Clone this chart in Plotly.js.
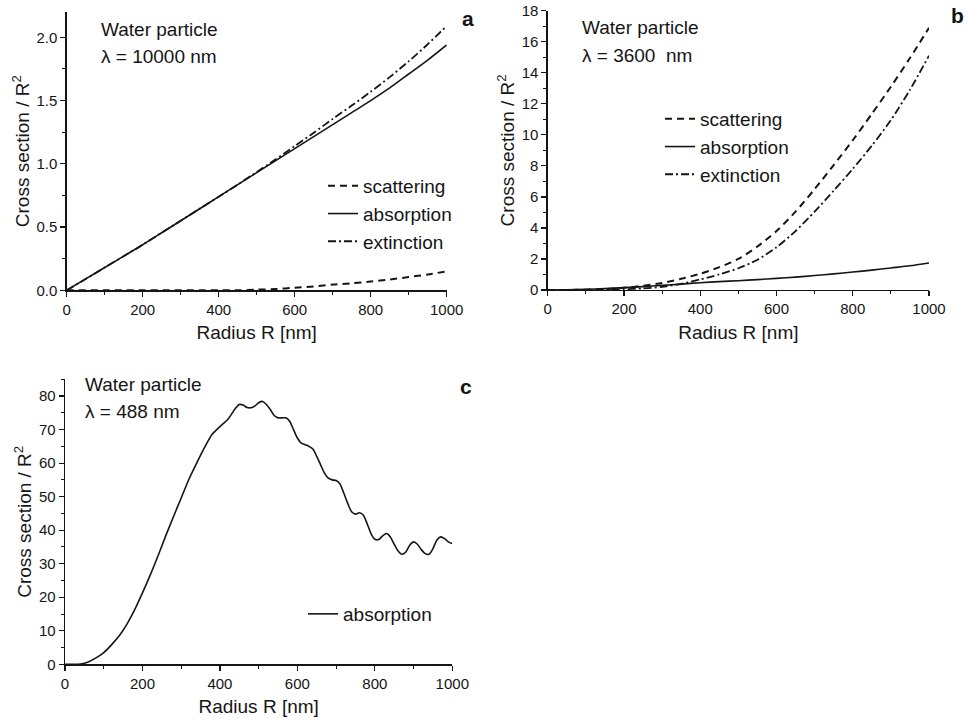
<!DOCTYPE html>
<html>
<head>
<meta charset="utf-8">
<script src="https://cdn.plot.ly/plotly-3.0.1.min.js"></script>
<style>html,body{margin:0;padding:0;background:#fff;}#chart{width:970px;height:726px;}</style>
</head>
<body>
<div id="chart"></div>
<script>
// Radius grid (nm)
const radiusAB = [0,50,100,150,200,250,300,350,400,450,500,550,600,650,700,750,800,850,900,950,1000];

// Panel a: lambda = 10000 nm
const aScattering = [0,0,0,0,0,0,0,0,0,0,0.005,0.01,0.02,0.03,0.045,0.055,0.07,0.085,0.105,0.125,0.15];
const aAbsorption = [0,0.09,0.18,0.27,0.36,0.455,0.55,0.645,0.74,0.835,0.93,1.025,1.12,1.215,1.31,1.405,1.50,1.60,1.71,1.82,1.94];
const aExtinction = [0,0.09,0.18,0.27,0.36,0.455,0.55,0.645,0.74,0.835,0.935,1.035,1.14,1.245,1.355,1.46,1.57,1.685,1.81,1.945,2.09];

// Panel b: lambda = 3600 nm
const bScattering = [0,0,0.02,0.06,0.14,0.27,0.45,0.72,1.05,1.47,2.0,2.8,3.8,5.05,6.5,8.05,9.65,11.35,13.1,14.95,16.9];
const bAbsorption = [0,0.01,0.04,0.09,0.15,0.22,0.3,0.38,0.47,0.54,0.6,0.67,0.75,0.83,0.93,1.04,1.16,1.28,1.42,1.56,1.74];
const bExtinction = [0,0,0.01,0.02,0.05,0.1,0.2,0.4,0.68,1.0,1.4,1.95,2.75,3.8,5.05,6.4,7.8,9.3,10.95,12.9,15.1];

// Panel c: lambda = 488 nm
const radiusC = [0,20,40,60,80,100,120,140,160,180,200,220,240,260,280,300,320,340,360,380,400,420,440,450,460,470,480,490,500,510,520,530,540,550,560,570,580,590,600,610,620,630,640,650,660,670,680,690,700,710,720,730,740,750,760,770,780,790,800,810,820,830,840,850,860,870,880,890,900,910,920,930,940,950,960,970,980,990,1000];
const cAbsorption = [0,0,0.1,0.7,1.9,3.5,5.8,8.5,12,16.3,21.3,26.6,32.3,38.3,44,49.6,55.2,60,64.6,68.6,70.9,73,76.3,77.5,77.3,76.6,76.5,77,78,78.4,77.5,76,74.2,73.5,73.5,73.5,72.5,70,67.5,66,65.5,65,64.2,62,59.5,57,55.5,55,54.8,53.8,51,48,45.5,44.8,45.2,44.5,42,39,37.3,37.2,38.3,39,38,35.8,33.8,32.8,33.5,35.5,36.5,35.8,34.2,33,32.8,34.5,37,38,37.5,36.5,36];

const seriesNames = ['scattering','absorption','extinction'];
const xTitle = 'Radius R [nm]';
const yTitle = 'Cross section / R<sup>2</sup>';

const FONT = 'Liberation Sans, Arial, sans-serif';
const INK = '#151515';
const styles = {
  scattering: {color: INK, width: 2, dash: '7px,5px'},
  absorption: {color: INK, width: 1.6, dash: 'solid'},
  extinction: {color: INK, width: 1.8, dash: '8px,3px,2px,3px'}
};

function tr(x, y, name, xa, ya, leg, grp) {
  return {x: x, y: y, name: name, type: 'scatter', mode: 'lines', line: Object.assign({shape: 'spline', smoothing: 0.7}, styles[name]),
    xaxis: xa, yaxis: ya, legend: leg, legendgroup: grp, hoverinfo: 'skip'};
}

const data = [
  tr(radiusAB, aScattering, seriesNames[0], 'x', 'y', 'legend', 'a1'),
  tr(radiusAB, aAbsorption, seriesNames[1], 'x', 'y', 'legend', 'a2'),
  tr(radiusAB, aExtinction, seriesNames[2], 'x', 'y', 'legend', 'a3'),
  tr(radiusAB, bScattering, seriesNames[0], 'x2', 'y2', 'legend2', 'b1'),
  tr(radiusAB, bAbsorption, seriesNames[1], 'x2', 'y2', 'legend2', 'b2'),
  tr(radiusAB, bExtinction, seriesNames[2], 'x2', 'y2', 'legend2', 'b3'),
  tr(radiusC, cAbsorption, seriesNames[1], 'x3', 'y3', 'legend3', 'c1')
];

const W = 970, H = 726;
const px = v => v / W;
const py = v => 1 - v / H;

function xax(dom, anchor) {
  return {domain: dom, anchor: anchor, range: [0, 1000], dtick: 200, tick0: 0,
    showline: true, linecolor: INK, linewidth: 1.3, mirror: false, showgrid: false, zeroline: false,
    ticks: 'outside', ticklen: 5, tickwidth: 1.2, tickcolor: INK,
    minor: {ticks: 'outside', ticklen: 3, tickwidth: 1, tickcolor: INK, dtick: 100, showgrid: false},
    tickfont: {family: FONT, size: 15, color: INK},
    title: {text: xTitle, font: {family: FONT, size: 19, color: INK}, standoff: 9}, automargin: false};
}
function yax(dom, anchor, range, dtick, minor, fmt) {
  return {domain: dom, anchor: anchor, range: range, dtick: dtick, tick0: 0, tickformat: fmt,
    showline: true, linecolor: INK, linewidth: 1.3, mirror: false, showgrid: false, zeroline: false,
    ticks: 'outside', ticklen: 5, tickwidth: 1.2, tickcolor: INK,
    minor: {ticks: 'outside', ticklen: 3, tickwidth: 1, tickcolor: INK, dtick: minor, showgrid: false},
    tickfont: {family: FONT, size: 15, color: INK},
    title: {text: yTitle, font: {family: FONT, size: 19, color: INK}, standoff: 2}, automargin: false};
}
function leg(x, y) {
  return {x: px(x), y: py(y), xanchor: 'left', yanchor: 'top', bgcolor: 'rgba(0,0,0,0)', borderwidth: 0,
    font: {family: FONT, size: 19, color: INK}, tracegroupgap: 0, traceorder: 'grouped', itemwidth: 30};
}
function note(x, y, text, size, bold) {
  return {xref: 'paper', yref: 'paper', x: px(x), y: py(y), xanchor: 'left', yanchor: 'middle', showarrow: false,
    text: bold ? '<b>' + text + '</b>' : text, font: {family: FONT, size: size, color: INK}};
}

const layout = {
  width: W, height: H, margin: {l: 0, r: 0, t: 0, b: 0},
  paper_bgcolor: '#fff', plot_bgcolor: '#fff', showlegend: true,
  font: {family: FONT, color: INK},
  xaxis: xax([px(66.7), px(446.7)], 'y'),
  yaxis: yax([py(290.3), py(12)], 'x', [0, 2.2], 0.5, 0.25, '.1f'),
  xaxis2: xax([px(547.7), px(929)], 'y2'),
  yaxis2: yax([py(290), py(10.7)], 'x2', [0, 18], 2, 1, 'd'),
  xaxis3: xax([px(65), px(452.3)], 'y3'),
  yaxis3: yax([py(664.3), py(379.3)], 'x3', [0, 85], 10, 5, 'd'),
  legend: leg(323, 167),
  legend2: leg(660, 100),
  legend3: leg(303, 595),
  annotations: [
    note(99, 29, 'Water particle', 19),
    note(99, 57, 'λ = 10000 nm', 19),
    note(580, 28, 'Water particle', 19),
    note(580, 55, 'λ = 3600  nm', 19),
    note(83, 384, 'Water particle', 19),
    note(83, 411, 'λ = 488 nm', 19),
    note(460, 19, 'a', 21, true),
    note(949, 15, 'b', 21, true),
    note(458, 386, 'c', 21, true)
  ]
};

Plotly.newPlot('chart', data, layout, {staticPlot: true, displayModeBar: false});
</script>
</body>
</html>
